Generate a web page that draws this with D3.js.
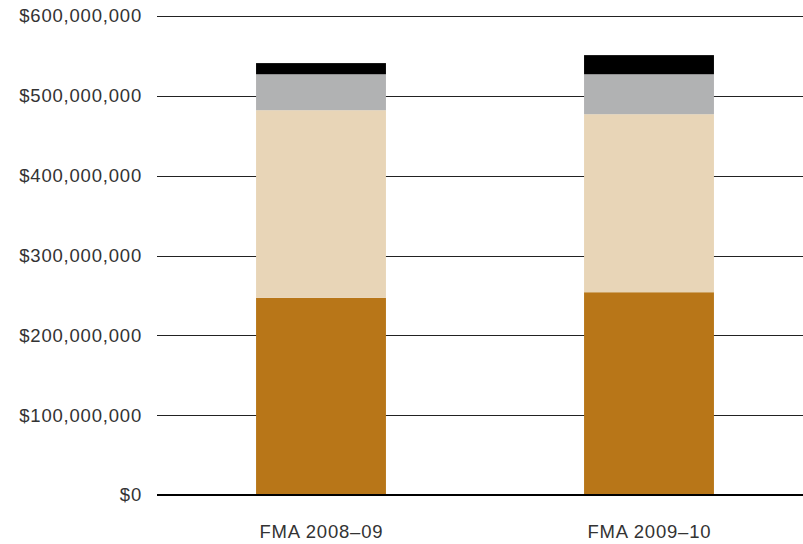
<!DOCTYPE html>
<html>
<head>
<meta charset="utf-8">
<script src="https://cdn.jsdelivr.net/npm/d3@7"></script>
<style>
  body { margin: 0; background: #fff; }
  svg { display: block; font-family: "Liberation Sans", Arial, sans-serif; }
</style>
</head>
<body>
<div id="chart"></div>
<script>
const categories = ['FMA 2008–09', 'FMA 2009–10'];
const seriesKeys = ['s1', 's2', 's3', 's4'];
const seriesColors = ['#b87618', '#e8d5b7', '#b1b2b3', '#000000'];
// values in dollars, bottom to top
const s1 = [247000000, 254000000];
const s2 = [235000000, 223000000];
const s3 = [45000000, 50000000];
const s4 = [14000000, 24000000];
const yTicks = [0, 100000000, 200000000, 300000000, 400000000, 500000000, 600000000];

const width = 803;
const height = 544;

const rows = categories.map((c, i) => ({ cat: c, s1: s1[i], s2: s2[i], s3: s3[i], s4: s4[i] }));
const stacked = d3.stack().keys(seriesKeys)(rows);

const svg = d3.select('#chart').append('svg').attr('width', width).attr('height', height);

const y = d3.scaleLinear().domain([0, 600000000]).range([495, 16]);
const x = d3.scaleBand().domain(categories).range([157, 813]).paddingInner(0.604).paddingOuter(0.302);

// gridlines
svg.append('g').selectAll('line').data(yTicks.filter((t) => t > 0)).join('line')
  .attr('x1', 157).attr('x2', width)
  .attr('y1', (d) => Math.round(y(d)) + 0.5).attr('y2', (d) => Math.round(y(d)) + 0.5)
  .attr('stroke', '#222').attr('stroke-width', 1);

// tick labels
const fmt = d3.format('$,');
svg.append('g').selectAll('text').data(yTicks).join('text')
  .attr('x', 142).attr('y', (d) => y(d)).attr('dy', '0.35em')
  .attr('text-anchor', 'end').attr('font-size', 18.5).attr('letter-spacing', 0.8).attr('fill', '#333')
  .text((d) => fmt(d));

// bars
svg.append('g').selectAll('g').data(stacked).join('g')
  .attr('fill', (d, i) => seriesColors[i])
  .selectAll('rect').data((d) => d).join('rect')
  .attr('x', (d) => x(d.data.cat))
  .attr('width', x.bandwidth())
  .attr('y', (d) => y(d[1]))
  .attr('height', (d) => y(d[0]) - y(d[1]));

// baseline
svg.append('line').attr('x1', 157).attr('x2', width)
  .attr('y1', y(0)).attr('y2', y(0))
  .attr('stroke', '#000').attr('stroke-width', 2);

// category labels
svg.append('g').selectAll('text').data(categories).join('text')
  .attr('x', (d) => x(d) + x.bandwidth() / 2 + 0.4).attr('y', 538)
  .attr('text-anchor', 'middle').attr('font-size', 18.5).attr('letter-spacing', 0.8).attr('fill', '#333')
  .text((d) => d);
</script>
</body>
</html>
